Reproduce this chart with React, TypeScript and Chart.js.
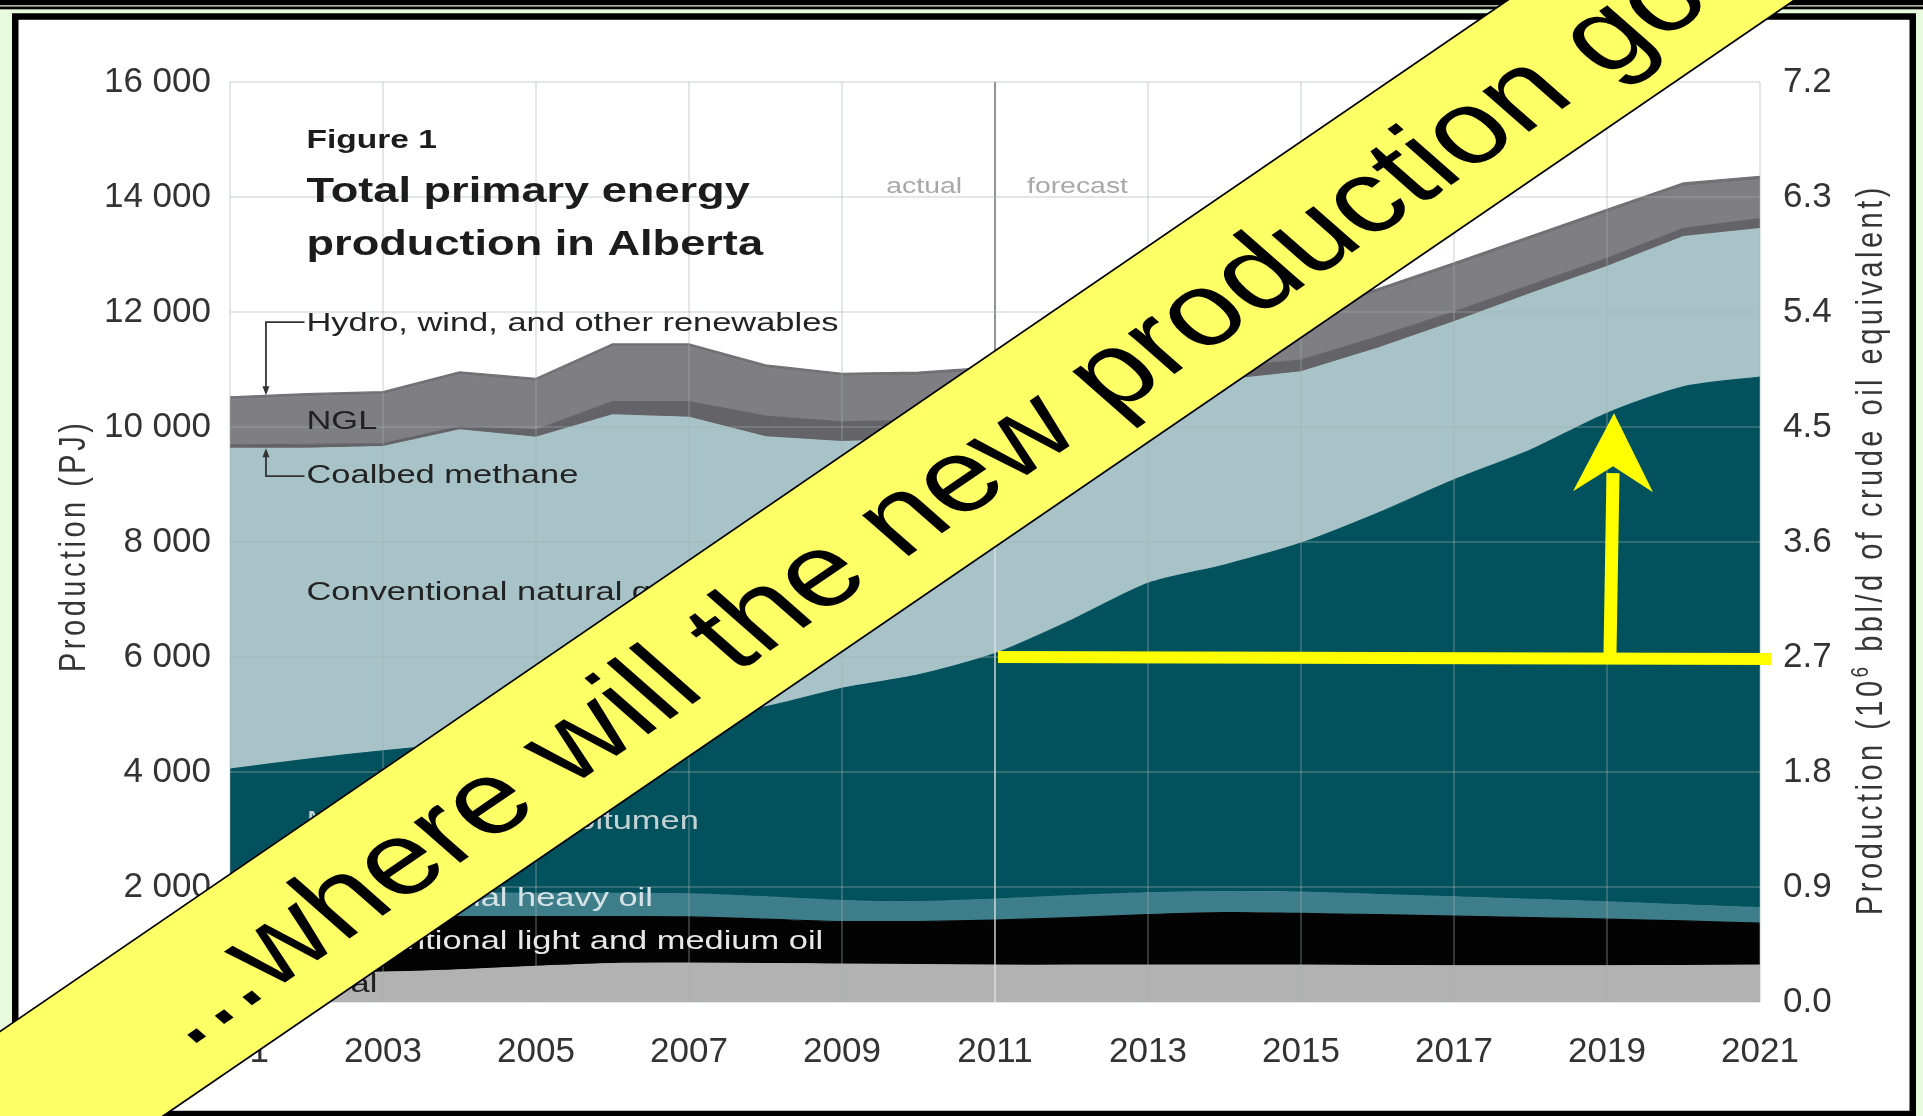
import React, { useEffect, useRef } from "react";
import { Chart, registerables } from "chart.js";

Chart.register(...registerables);

const W = 1923;
const H = 1116;
const FONT = "'Liberation Sans', Arial, Helvetica, sans-serif";
const STRETCH = 1.29;

// ---- data (PJ per year, stacked from the bottom) ----
const years = [2001, 2002, 2003, 2004, 2005, 2006, 2007, 2008, 2009, 2010, 2011, 2012, 2013, 2014, 2015, 2016, 2017, 2018, 2019, 2020, 2021];
const coal = [500, 510, 520, 560, 620, 670, 675, 670, 660, 650, 640, 640, 640, 640, 640, 635, 630, 630, 630, 635, 640];
const lightMediumOil = [1000, 990, 970, 925, 865, 815, 805, 770, 740, 750, 785, 830, 880, 915, 900, 885, 865, 840, 810, 775, 730];
const heavyOil = [400, 400, 410, 410, 405, 405, 400, 390, 365, 345, 365, 380, 380, 365, 370, 350, 335, 315, 300, 280, 270];
const bitumen = [2150, 2320, 2470, 2605, 2760, 2910, 3100, 3305, 3690, 3945, 4270, 4790, 5380, 5680, 6070, 6630, 7250, 7815, 8500, 9010, 9230];
const conventionalGas = [5580, 5410, 5290, 5450, 5170, 5410, 5190, 4695, 4290, 4100, 3840, 3510, 3200, 3215, 2980, 2870, 2750, 2720, 2550, 2610, 2580];
const coalbedMethane = [60, 70, 50, 55, 130, 230, 270, 360, 345, 330, 320, 290, 260, 230, 205, 200, 175, 150, 145, 145, 175];
const ngl = [790, 835, 855, 905, 845, 955, 955, 840, 795, 780, 770, 760, 760, 755, 760, 775, 790, 790, 790, 730, 675];
const renewables = [45, 45, 50, 50, 50, 50, 50, 50, 50, 55, 55, 55, 55, 60, 60, 60, 60, 60, 60, 60, 60];

const xTickYears = [2001, 2003, 2005, 2007, 2009, 2011, 2013, 2015, 2017, 2019, 2021];
const pjTicks = [0, 2000, 4000, 6000, 8000, 10000, 12000, 14000, 16000];
const bblTicks = [0, 0.9, 1.8, 2.7, 3.6, 4.5, 5.4, 6.3, 7.2];

const forecastStartYear = 2011;
const arrowYear = 2019;
const arrowBaseValue = 6000;

const seriesDefs = [
  { label: "Coal", values: coal, color: "#b2b2b2", tension: 0.3 },
  { label: "Conventional light and medium oil", values: lightMediumOil, color: "#030303", tension: 0.3 },
  { label: "Conventional heavy oil", values: heavyOil, color: "#3d7e8a", tension: 0.3 },
  { label: "Mined and in situ bitumen", values: bitumen, color: "#02525e", tension: 0.25 },
  { label: "Conventional natural gas", values: conventionalGas, color: "#a7c3c7", tension: 0 },
  { label: "Coalbed methane", values: coalbedMethane, color: "#646468", tension: 0 },
  { label: "NGL", values: ngl, color: "#7f7e83", tension: 0 },
  { label: "Hydro, wind, and other renewables", values: renewables, color: "#727176", tension: 0 },
];

const GRID = "rgba(165,175,175,0.30)";

function fmtPJ(v: number): string {
  if (v === 0) return "0";
  const th = Math.floor(v / 1000);
  const r = Math.round(v % 1000);
  return `${th} ${String(r).padStart(3, "0")}`;
}

function cumulativeAt(levels: number, idx: number): number {
  let s = 0;
  for (let k = 0; k < levels; k++) s += seriesDefs[k].values[idx];
  return s;
}

function cumulativeAtYear(levels: number, year: number): number {
  const i = Math.max(0, Math.min(years.length - 2, Math.floor(year - years[0])));
  const t = year - years[i];
  const a = cumulativeAt(levels, i);
  const b = cumulativeAt(levels, i + 1);
  return a + (b - a) * t;
}

function stretchedText(ctx: CanvasRenderingContext2D, text: string, x: number, y: number, font: string, color: string, align: CanvasTextAlign = "left") {
  ctx.save();
  ctx.font = font;
  ctx.fillStyle = color;
  ctx.textBaseline = "middle";
  ctx.textAlign = align;
  ctx.translate(x, y);
  ctx.scale(STRETCH, 1);
  ctx.fillText(text, 0, 0);
  ctx.restore();
}

type Part = { text: string; size: number; rise: number };

function verticalTitle(ctx: CanvasRenderingContext2D, parts: Part[], baseX: number, startY: number, spacing: number) {
  ctx.save();
  ctx.translate(baseX, startY);
  ctx.scale(STRETCH, 1);
  ctx.rotate(-Math.PI / 2);
  ctx.fillStyle = "#363636";
  ctx.textBaseline = "alphabetic";
  ctx.textAlign = "left";
  let u = 0;
  for (const p of parts) {
    ctx.font = `${p.size}px ${FONT}`;
    for (const ch of p.text) {
      ctx.fillText(ch, u, -p.rise);
      u += ctx.measureText(ch).width + spacing;
    }
  }
  ctx.restore();
}

const decorPlugin = {
  id: "decor",
  beforeDraw(chart: any) {
    const ctx: CanvasRenderingContext2D = chart.ctx;
    ctx.save();
    ctx.fillStyle = "#e8fbdc";
    ctx.fillRect(0, 0, W, H);
    ctx.fillStyle = "#000";
    ctx.fillRect(0, 0, W, 5.3);
    ctx.fillRect(0, 6.5, W, 2.8);
    ctx.fillStyle = "#fff";
    ctx.fillRect(12, 13, 1904, 1110);
    ctx.strokeStyle = "#000";
    ctx.lineWidth = 6.5;
    ctx.strokeRect(15.25, 16.5, 1897.5, 1097.5);
    ctx.restore();
  },
  beforeDatasetsDraw(chart: any) {
    const { ctx, chartArea, scales } = chart;
    const x = scales.x.getPixelForValue(forecastStartYear);
    ctx.save();
    ctx.strokeStyle = "#8a8a8a";
    ctx.lineWidth = 2;
    ctx.beginPath();
    ctx.moveTo(x, chartArea.top);
    ctx.lineTo(x, chartArea.bottom);
    ctx.stroke();
    ctx.restore();
  },
  afterDraw(chart: any) {
    const ctx: CanvasRenderingContext2D = chart.ctx;
    const { chartArea, scales } = chart;
    const xs = scales.x;
    const ys = scales.y;

    // divider over the data
    const xDiv = xs.getPixelForValue(forecastStartYear);
    const iDiv = years.indexOf(forecastStartYear);
    ctx.save();
    ctx.strokeStyle = "rgba(235,240,240,0.55)";
    ctx.lineWidth = 2;
    ctx.beginPath();
    ctx.moveTo(xDiv, chartArea.bottom);
    ctx.lineTo(xDiv, ys.getPixelForValue(cumulativeAt(seriesDefs.length, iDiv)));
    ctx.stroke();
    ctx.restore();

    // actual / forecast
    const yAF = ys.getPixelForValue(14170);
    stretchedText(ctx, "actual", xDiv - 33, yAF, `22px ${FONT}`, "#a8a8a8", "right");
    stretchedText(ctx, "forecast", xDiv + 32, yAF, `22px ${FONT}`, "#a8a8a8", "left");

    // figure title
    const xL = xs.getPixelForValue(2002);
    stretchedText(ctx, "Figure 1", xL, ys.getPixelForValue(14970), `bold 26px ${FONT}`, "#1c1c1c");
    stretchedText(ctx, "Total primary energy", xL, ys.getPixelForValue(14078), `bold 35px ${FONT}`, "#1c1c1c");
    stretchedText(ctx, "production in Alberta", xL, ys.getPixelForValue(13165), `bold 35px ${FONT}`, "#1c1c1c");

    // series labels
    const labels = [
      { text: "Hydro, wind, and other renewables", value: 11790, color: "#222" },
      { text: "NGL", value: 10086, color: "#222" },
      { text: "Coalbed methane", value: 9147, color: "#222" },
      { text: "Conventional natural gas", value: 7113, color: "#222" },
      { text: "Mined and in situ bitumen", value: 3130, color: "#c3d1d4" },
      { text: "Conventional heavy oil", value: 1791, color: "#d5e3e6" },
      { text: "Conventional light and medium oil", value: 1043, color: "#e8e8e8" },
      { text: "Coal", value: 296, color: "#222" },
    ];
    for (const l of labels) {
      stretchedText(ctx, l.text, xL, ys.getPixelForValue(l.value), `26.7px ${FONT}`, l.color);
    }

    // bracket connectors
    const xb = xs.getPixelForValue(2001.47);
    const yHydro = ys.getPixelForValue(11790) - 2;
    const yTop = ys.getPixelForValue(cumulativeAtYear(seriesDefs.length, 2001.47));
    const yCbmText = ys.getPixelForValue(9147);
    const yGasTop = ys.getPixelForValue(cumulativeAtYear(5, 2001.47));
    ctx.save();
    ctx.strokeStyle = "#333";
    ctx.fillStyle = "#333";
    ctx.lineWidth = 1.8;
    ctx.beginPath();
    ctx.moveTo(xL - 2, yHydro);
    ctx.lineTo(xb, yHydro);
    ctx.lineTo(xb, yTop - 6);
    ctx.stroke();
    ctx.beginPath();
    ctx.moveTo(xb, yTop);
    ctx.lineTo(xb - 3.5, yTop - 9);
    ctx.lineTo(xb + 3.5, yTop - 9);
    ctx.closePath();
    ctx.fill();
    ctx.beginPath();
    ctx.moveTo(xL - 2, yCbmText);
    ctx.lineTo(xb, yCbmText);
    ctx.lineTo(xb, yGasTop + 6);
    ctx.stroke();
    ctx.beginPath();
    ctx.moveTo(xb, yGasTop);
    ctx.lineTo(xb - 3.5, yGasTop + 9);
    ctx.lineTo(xb + 3.5, yGasTop + 9);
    ctx.closePath();
    ctx.fill();
    ctx.restore();

    // axis titles
    verticalTitle(ctx, [{ text: "Production (PJ)", size: 29, rise: 0 }], 85, 672, 3.5);
    verticalTitle(
      ctx,
      [
        { text: "Production (10", size: 29, rise: 0 },
        { text: "6", size: 19, rise: 11 },
        { text: " bbl/d of crude oil equivalent)", size: 29, rise: 0 },
      ],
      1882,
      915,
      3.5
    );

    // yellow arrows
    const yBase = ys.getPixelForValue(arrowBaseValue);
    const xArrow = xs.getPixelForValue(arrowYear);
    const iArrow = years.indexOf(arrowYear);
    const yTip = ys.getPixelForValue(cumulativeAt(4, iArrow));
    ctx.save();
    ctx.strokeStyle = "#ffff00";
    ctx.fillStyle = "#ffff00";
    ctx.lineCap = "butt";
    ctx.lineWidth = 12;
    ctx.beginPath();
    ctx.moveTo(xDiv + 3, yBase);
    ctx.lineTo(chartArea.right + 11, yBase + 2);
    ctx.stroke();
    ctx.lineWidth = 13;
    ctx.beginPath();
    ctx.moveTo(xArrow + 3, yBase - 4);
    ctx.lineTo(xArrow + 6, yTip + 60);
    ctx.stroke();
    ctx.beginPath();
    ctx.moveTo(xArrow + 7, yTip);
    ctx.lineTo(xArrow + 46, yTip + 79);
    ctx.lineTo(xArrow + 6, yTip + 53);
    ctx.lineTo(xArrow - 34, yTip + 78);
    ctx.closePath();
    ctx.fill();
    ctx.restore();

    // banner
    const slope = 0.8824;
    const ang = Math.atan(slope);
    const half = 73.5;
    ctx.save();
    ctx.setTransform(STRETCH, 0, 0, 1, 0, 0);
    ctx.translate(0, 1129.5);
    ctx.rotate(-ang);
    ctx.fillStyle = "#ffff66";
    ctx.fillRect(-800, -half, 4000, half * 2);
    ctx.strokeStyle = "#000";
    ctx.lineWidth = 1.6;
    ctx.beginPath();
    ctx.moveTo(-800, -half);
    ctx.lineTo(3200, -half);
    ctx.moveTo(-800, half);
    ctx.lineTo(3200, half);
    ctx.stroke();
    ctx.fillStyle = "#000";
    ctx.font = `103px ${FONT}`;
    ctx.textBaseline = "alphabetic";
    ctx.textAlign = "left";
    ctx.fillText("...where will the new production go?", 162, 36);
    ctx.restore();
  },
};

export default function App() {
  const ref = useRef<HTMLCanvasElement | null>(null);

  useEffect(() => {
    if (!ref.current) return;
    const datasets = seriesDefs.map((s, i) => ({
      label: s.label,
      data: years.map((y, k) => ({ x: y, y: s.values[k] })),
      backgroundColor: s.color,
      borderColor: s.color,
      borderWidth: 1.2,
      fill: i === 0 ? "origin" : "-1",
      pointRadius: 0,
      pointHoverRadius: 0,
      tension: s.tension,
    }));

    const tickFont = { family: FONT, size: 35 };

    const chart = new Chart(ref.current, {
      type: "line",
      data: { datasets },
      options: {
        responsive: false,
        animation: false,
        devicePixelRatio: 1,
        layout: { padding: { top: 82, left: 0, right: 0, bottom: 0 } },
        plugins: {
          legend: { display: false },
          tooltip: { enabled: false },
          title: { display: false },
        },
        scales: {
          x: {
            type: "linear",
            min: years[0],
            max: years[years.length - 1],
            afterBuildTicks: (s: any) => {
              s.ticks = xTickYears.map((v) => ({ value: v }));
            },
            afterFit: (s: any) => {
              s.height = 114;
            },
            ticks: {
              font: tickFont,
              color: "#333",
              padding: 29,
              maxRotation: 0,
              autoSkip: false,
              callback: (v: any) => String(v),
            },
            grid: { color: GRID, lineWidth: 2, drawTicks: false, z: 1 },
            border: { display: false },
          },
          y: {
            type: "linear",
            stacked: true,
            min: 0,
            max: 16000,
            afterBuildTicks: (s: any) => {
              s.ticks = pjTicks.map((v) => ({ value: v }));
            },
            afterFit: (s: any) => {
              s.width = 230;
            },
            ticks: {
              font: tickFont,
              color: "#333",
              padding: 19,
              callback: (v: any) => fmtPJ(Number(v)),
            },
            grid: { color: GRID, lineWidth: 2, drawTicks: false, z: 1 },
            border: { display: false },
          },
          y2: {
            type: "linear",
            position: "right",
            min: 0,
            max: 7.2,
            afterBuildTicks: (s: any) => {
              s.ticks = bblTicks.map((v) => ({ value: v }));
            },
            afterFit: (s: any) => {
              s.width = 163;
            },
            ticks: {
              font: tickFont,
              color: "#333",
              padding: 23,
              callback: (v: any) => Number(v).toFixed(1),
            },
            grid: { display: false, drawTicks: false },
            border: { display: false },
          },
        },
      } as any,
      plugins: [decorPlugin],
    });
    return () => chart.destroy();
  }, []);

  return (
    <div style={{ position: "fixed", left: 0, top: 0, width: W, height: H, overflow: "hidden" }}>
      <canvas ref={ref} width={W} height={H} style={{ width: `${W}px`, height: `${H}px`, display: "block" }} />
    </div>
  );
}
